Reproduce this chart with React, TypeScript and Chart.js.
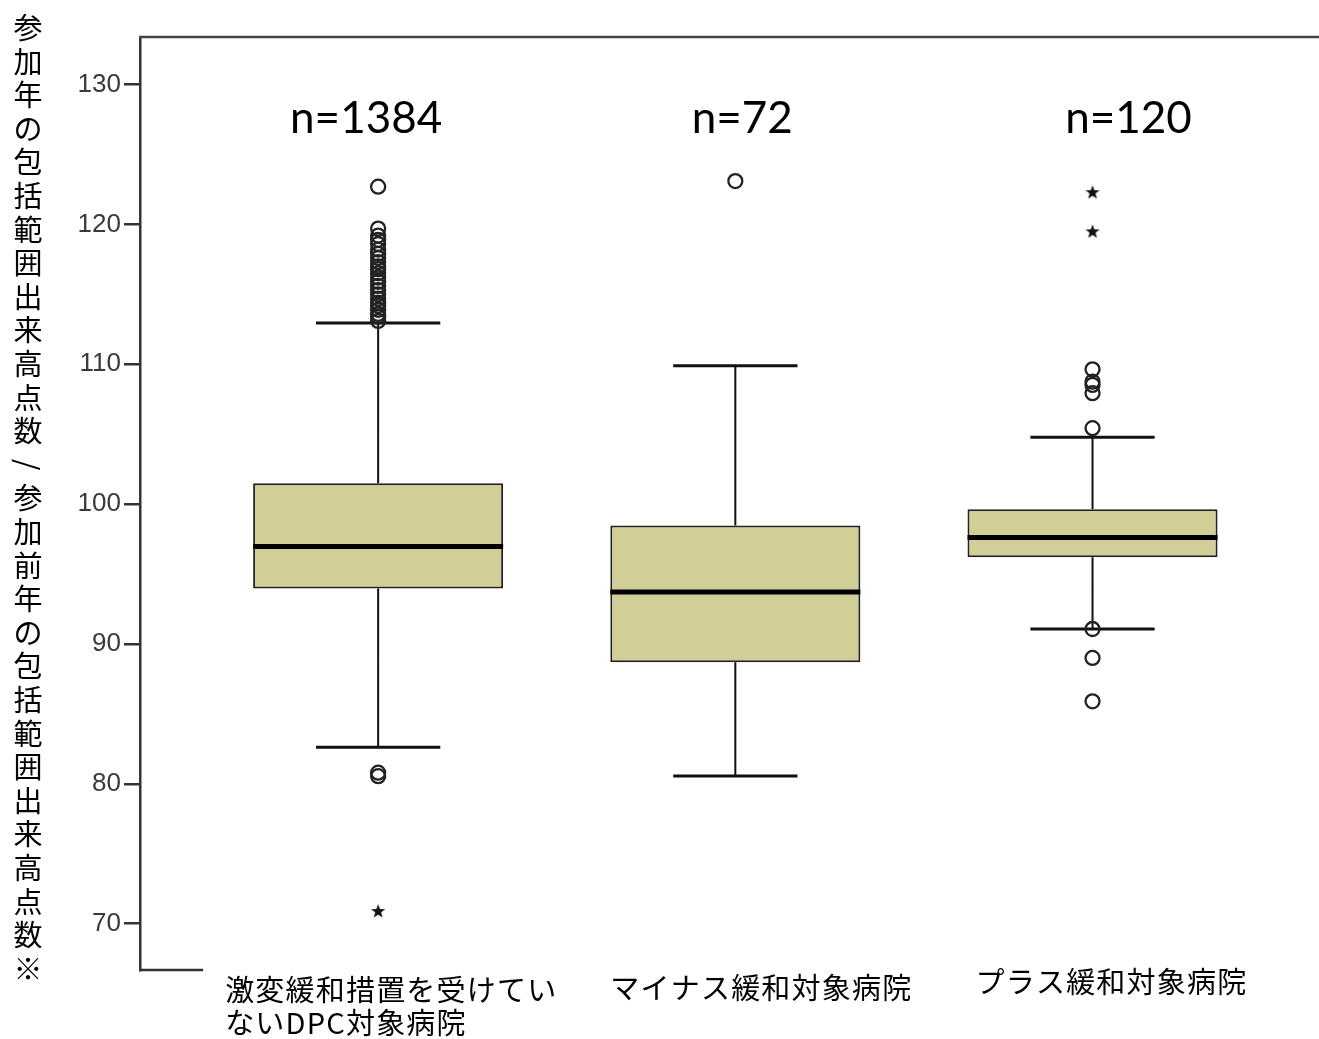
import React, { useEffect, useRef } from "react";
import { Chart, registerables } from "chart.js";

Chart.register(...registerables);

// ---- data ----
const categoryLines: string[][] = [
  ["激変緩和措置を受けてい", "ないDPC対象病院"],
  ["マイナス緩和対象病院"],
  ["プラス緩和対象病院"],
];
const nCounts = [1384, 72, 120];
const q1 = [93.96, 88.7, 96.21];
const median = [96.97, 93.71, 97.61];
const q3 = [101.5, 98.47, 99.64];
const whiskerLow = [82.62, 80.57, 91.07];
const whiskerHigh = [112.95, 109.89, 104.78];
const outliers1 = [
  113.1, 113.4, 113.6, 113.9, 114.2, 114.4, 114.7, 115.0, 115.3, 115.6, 115.9, 116.2,
  116.5, 116.8, 117.0, 117.3, 117.6, 117.9, 118.2, 118.6, 118.9, 119.2, 119.7, 122.7,
  80.8, 80.55,
];
const outliers2 = [123.1];
const outliers3 = [109.64, 108.76, 108.52, 107.93, 105.43, 91.07, 89.0, 85.9];
const extremes1 = [70.9];
const extremes2: number[] = [];
const extremes3 = [122.3, 119.5];
const yTicks = [70, 80, 90, 100, 110, 120, 130];
const yTitle = "参加年の包括範囲出来高点数/参加前年の包括範囲出来高点数※";

const outlierGroups = [outliers1, outliers2, outliers3];
const extremeGroups = [extremes1, extremes2, extremes3];

// ---- layout / style ----
const W = 1319;
const H = 1039;
const Y_MIN = 66.69;
const Y_MAX = 133.4;
const X_MIN = 0.3333;
const X_MAX = 3.608;
const CAP_HALF = 0.174;
const BOX_HALF = 0.35;
const BOX_FILL = "#d2ce98";
const AXIS_COLOR = "#333333";
const labelOffsets = [-153, -125, -117];
const labelCenterY = [990, 988, 982];
const nOffsets = [-12, 7, 36];

function makeStar(): HTMLCanvasElement {
  const c = document.createElement("canvas");
  c.width = 16;
  c.height = 16;
  const g = c.getContext("2d")!;
  g.fillStyle = "#111";
  g.beginPath();
  const cx = 8, cy = 8.4, ro = 7.5, ri = 3.1;
  for (let k = 0; k < 10; k++) {
    const r = k % 2 === 0 ? ro : ri;
    const a = -Math.PI / 2 + (k * Math.PI) / 5;
    const px = cx + r * Math.cos(a);
    const py = cy + r * Math.sin(a);
    if (k === 0) g.moveTo(px, py);
    else g.lineTo(px, py);
  }
  g.closePath();
  g.fill();
  return c;
}

const decorPlugin = {
  id: "decor",
  afterDraw(chart: any) {
    const { ctx, chartArea } = chart;
    const xs = chart.scales.x;
    ctx.save();
    // top frame line
    ctx.strokeStyle = "#444";
    ctx.lineWidth = 2.5;
    ctx.beginPath();
    ctx.moveTo(chartArea.left - 1, chartArea.top);
    ctx.lineTo(chart.width, chartArea.top);
    ctx.stroke();
    // bottom axis line (visible part, rest hidden under label box)
    const labelBoxLeft = xs.getPixelForValue(1) + labelOffsets[0] - 22;
    ctx.strokeStyle = AXIS_COLOR;
    ctx.beginPath();
    ctx.moveTo(chartArea.left - 1, chartArea.bottom);
    ctx.lineTo(labelBoxLeft, chartArea.bottom);
    ctx.stroke();

    // n labels
    ctx.fillStyle = "#000";
    ctx.font = "44px Lato, 'Open Sans', sans-serif";
    ctx.textAlign = "center";
    ctx.textBaseline = "alphabetic";
    nCounts.forEach((n, i) => {
      ctx.fillText("n=" + n, xs.getPixelForValue(i + 1) + nOffsets[i], 133);
    });

    // category labels
    ctx.font = "29px 'Noto Sans CJK JP', sans-serif";
    (ctx as any).letterSpacing = "1.2px";
    ctx.textAlign = "left";
    ctx.textBaseline = "middle";
    categoryLines.forEach((lines, i) => {
      const left = xs.getPixelForValue(i + 1) + labelOffsets[i];
      lines.forEach((ln, j) => {
        ctx.fillText(ln, left, labelCenterY[i] + j * 33);
      });
    });
    (ctx as any).letterSpacing = "0px";

    // vertical y title (upright characters)
    ctx.font = "29px 'Noto Sans CJK JP', sans-serif";
    ctx.textAlign = "center";
    ctx.textBaseline = "middle";
    const chars = Array.from(yTitle);
    const step = 33.6;
    const startY = 28;
    chars.forEach((ch, k) => {
      const cy = startY + k * step;
      if (ch === "/") {
        ctx.save();
        ctx.translate(28, cy);
        ctx.rotate(Math.PI / 2);
        ctx.fillText(ch, 0, 0);
        ctx.restore();
      } else {
        ctx.fillText(ch, 28, cy);
      }
    });
    ctx.restore();
  },
};

export default function App() {
  const ref = useRef<HTMLCanvasElement | null>(null);

  useEffect(() => {
    if (!ref.current) return;
    const star = makeStar();

    const boxData = q1.map((v, i) => ({ x: i + 1, y: [v, q3[i]] }));
    const medianData: any[] = [];
    const stemData: any[] = [];
    const capData: any[] = [];
    q1.forEach((_, i) => {
      const c = i + 1;
      medianData.push({ x: c - BOX_HALF, y: median[i] }, { x: c + BOX_HALF, y: median[i] }, { x: c, y: null });
      stemData.push(
        { x: c, y: q3[i] }, { x: c, y: whiskerHigh[i] }, { x: c, y: null },
        { x: c, y: q1[i] }, { x: c, y: whiskerLow[i] }, { x: c, y: null }
      );
      capData.push(
        { x: c - CAP_HALF, y: whiskerHigh[i] }, { x: c + CAP_HALF, y: whiskerHigh[i] }, { x: c, y: null },
        { x: c - CAP_HALF, y: whiskerLow[i] }, { x: c + CAP_HALF, y: whiskerLow[i] }, { x: c, y: null }
      );
    });
    const outlierData = outlierGroups.flatMap((arr, i) => arr.map((v) => ({ x: i + 1, y: v })));
    const extremeData = extremeGroups.flatMap((arr, i) => arr.map((v) => ({ x: i + 1, y: v })));

    const chart = new Chart(ref.current, {
      type: "bar",
      data: {
        datasets: [
          {
            type: "bar",
            data: boxData as any,
            backgroundColor: BOX_FILL,
            borderColor: "#222",
            borderWidth: 2,
            borderSkipped: false,
            barPercentage: 0.7,
            categoryPercentage: 1,
            order: 5,
          } as any,
          {
            type: "line",
            data: stemData,
            borderColor: "#111",
            borderWidth: 2,
            pointRadius: 0,
            spanGaps: false,
            order: 4,
          },
          {
            type: "line",
            data: capData,
            borderColor: "#111",
            borderWidth: 3,
            pointRadius: 0,
            spanGaps: false,
            order: 3,
          },
          {
            type: "line",
            data: medianData,
            borderColor: "#000",
            borderWidth: 5,
            borderCapStyle: "butt",
            pointRadius: 0,
            spanGaps: false,
            order: 2,
          },
          {
            type: "scatter",
            data: outlierData,
            pointStyle: "circle",
            pointRadius: 7,
            borderWidth: 2.3,
            borderColor: "#222",
            backgroundColor: "rgba(0,0,0,0)",
            order: 1,
          },
          {
            type: "scatter",
            data: extremeData,
            pointStyle: star as any,
            pointRadius: 7,
            order: 0,
          },
        ],
      },
      options: {
        responsive: false,
        animation: false,
        events: [],
        layout: { padding: { top: 37, right: 0, bottom: 69, left: 0 } },
        plugins: { legend: { display: false }, tooltip: { enabled: false } },
        scales: {
          x: {
            type: "linear",
            display: false,
            offset: false,
            min: X_MIN,
            max: X_MAX,
            afterBuildTicks: (axis: any) => {
              axis.ticks = q1.map((_, i) => ({ value: i + 1 }));
            },
          },
          y: {
            type: "linear",
            min: Y_MIN,
            max: Y_MAX,
            afterBuildTicks: (axis: any) => {
              axis.ticks = yTicks.map((v) => ({ value: v }));
            },
            afterFit: (axis: any) => {
              axis.width = 140;
            },
            border: { display: true, color: AXIS_COLOR, width: 2.5 },
            grid: {
              drawOnChartArea: false,
              drawTicks: true,
              tickLength: 16,
              color: AXIS_COLOR,
              lineWidth: 2.5,
            },
            ticks: {
              font: { family: "'Liberation Sans', Arial, sans-serif", size: 26 },
              color: "#3a3a3a",
              padding: 3,
            },
          },
        },
      },
      plugins: [decorPlugin],
    });
    return () => chart.destroy();
  }, []);

  return (
    <div style={{ position: "absolute", left: 0, top: 0, width: W, height: H, background: "#fff" }}>
      <canvas ref={ref} width={W} height={H} style={{ display: "block" }} />
    </div>
  );
}
